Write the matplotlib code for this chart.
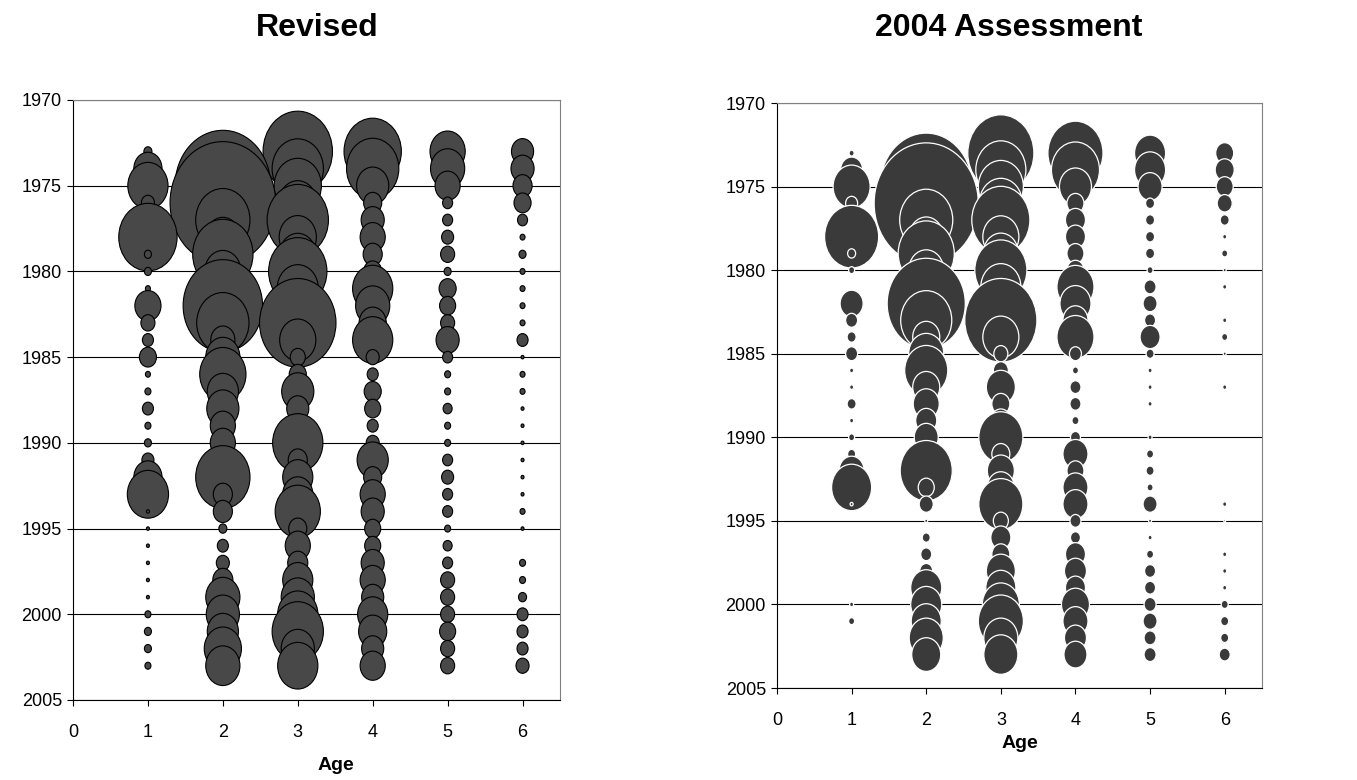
import numpy as np
import matplotlib.pyplot as plt
from matplotlib.collections import EllipseCollection

plt.rcParams['font.family'] = ['Liberation Sans', 'DejaVu Sans']

years = np.arange(1973, 2004)
ages = [1, 2, 3, 4, 5, 6]

# bubble widths (catch-at-age index, 1973-2003) - revised run
rev_age1 = [8, 28, 40, 13, 10, 58, 7, 7, 5, 26, 14, 11, 17, 5, 6, 11, 6, 7, 12, 28, 41, 3, 3, 3, 3, 3, 3, 6, 7, 7, 6]
rev_age2 = [30, 40, 95, 105, 54, 34, 60, 36, 40, 79, 52, 24, 34, 46, 31, 32, 25, 25, 22, 54, 19, 19, 8, 11, 13, 20, 34, 33, 31, 37, 34]
rev_age3 = [69, 51, 47, 38, 61, 37, 36, 58, 41, 40, 76, 36, 15, 17, 32, 22, 20, 50, 19, 30, 30, 45, 18, 25, 20, 30, 33, 40, 51, 33, 40]
rev_age4 = [57, 52, 32, 18, 23, 25, 19, 18, 40, 34, 27, 40, 13, 11, 17, 16, 11, 13, 31, 18, 25, 23, 16, 16, 23, 25, 22, 30, 28, 22, 25]
rev_age5 = [35, 34, 25, 10, 10, 12, 14, 7, 17, 16, 14, 23, 10, 6, 6, 9, 6, 6, 10, 12, 10, 10, 6, 9, 10, 14, 14, 14, 16, 14, 14]
rev_age6 = [22, 23, 19, 17, 10, 5, 7, 5, 5, 5, 5, 11, 3, 5, 5, 3, 3, 3, 3, 3, 3, 5, 3, 0, 6, 6, 8, 11, 11, 11, 13]

# 2004 assessment
asm_age1 = [5, 22, 37, 12, 10, 54, 8, 6, 0, 23, 12, 9, 12, 4, 4, 9, 4, 6, 8, 25, 40, 3, 0, 0, 0, 0, 0, 4, 6, 0, 0]
asm_age2 = [30, 40, 92, 104, 53, 34, 56, 35, 40, 78, 51, 27, 35, 43, 27, 26, 21, 24, 22, 52, 16, 14, 3, 8, 11, 13, 31, 31, 30, 34, 29]
asm_age3 = [66, 50, 45, 43, 58, 36, 35, 52, 40, 40, 72, 36, 14, 15, 29, 18, 20, 44, 18, 27, 27, 44, 15, 20, 18, 29, 30, 37, 45, 34, 34]
asm_age4 = [55, 48, 32, 17, 20, 20, 17, 17, 37, 31, 25, 37, 12, 6, 11, 11, 7, 10, 25, 17, 25, 25, 11, 10, 20, 22, 20, 28, 25, 22, 23]
asm_age5 = [31, 31, 24, 9, 9, 9, 9, 6, 12, 14, 11, 20, 8, 4, 4, 4, 0, 4, 7, 8, 6, 14, 3, 4, 7, 11, 11, 12, 14, 12, 12]
asm_age6 = [18, 19, 17, 15, 9, 4, 6, 3, 4, 0, 4, 6, 3, 0, 4, 0, 0, 0, 0, 0, 0, 4, 2, 0, 4, 4, 4, 7, 8, 8, 11]

revised = [rev_age1, rev_age2, rev_age3, rev_age4, rev_age5, rev_age6]
assessment = [asm_age1, asm_age2, asm_age3, asm_age4, asm_age5, asm_age6]

W, H, DPI = 1357, 780, 100
per_age = 74.5     # size units per one age step on the x axis
stretch = 1.16     # bubbles come out taller than wide


def bubbles(ax, table, face, edge, lw):
    xy, w = [], []
    # year by year so later years sit on top
    for i, yr in enumerate(years):
        for a, col in zip(ages, table):
            if col[i] > 0:
                xy.append((a, yr))
                w.append(col[i] / per_age)
    w = np.array(w)
    ec = EllipseCollection(w, w * stretch, np.zeros_like(w), units='x',
                           offsets=np.array(xy), offset_transform=ax.transData,
                           facecolors=face, edgecolors=edge, linewidths=lw, zorder=3)
    ax.add_collection(ec)


def style(ax):
    ax.set_xlim(0, 6.5)
    ax.set_ylim(2005, 1970)
    ax.set_xticks(range(7))
    ax.set_yticks(range(1970, 2006, 5))
    ax.grid(axis='y', color='black', lw=0.8)
    ax.set_axisbelow(True)
    for s in ['top', 'right']:
        ax.spines[s].set_color('#808080')
    for s in ['left', 'bottom']:
        ax.spines[s].set_color('black')
    ax.tick_params(direction='out', length=4, width=0.8, labelsize=13)
    ax.tick_params(axis='x', pad=13)
    ax.tick_params(axis='y', pad=4)


fig = plt.figure(figsize=(W / DPI, H / DPI), dpi=DPI)
ax1 = fig.add_axes([73 / W, 80 / H, 487 / W, 600 / H])
ax2 = fig.add_axes([777 / W, 92 / H, 485 / W, 585 / H])

style(ax1)
style(ax2)
bubbles(ax1, revised, '#484848', 'black', 0.8)
bubbles(ax2, assessment, '#3a3a3a', 'white', 0.9)

fig.text(317 / W, 1 - 28 / H, 'Revised', ha='center', va='center', fontsize=23, fontweight='bold')
fig.text(1009 / W, 1 - 28 / H, '2004 Assessment', ha='center', va='center', fontsize=23, fontweight='bold')
fig.text(336 / W, 1 - 766 / H, 'Age', ha='center', va='center', fontsize=14, fontweight='bold')
fig.text(1020 / W, 1 - 743 / H, 'Age', ha='center', va='center', fontsize=14, fontweight='bold')

fig.savefig('out.png', dpi=DPI)
